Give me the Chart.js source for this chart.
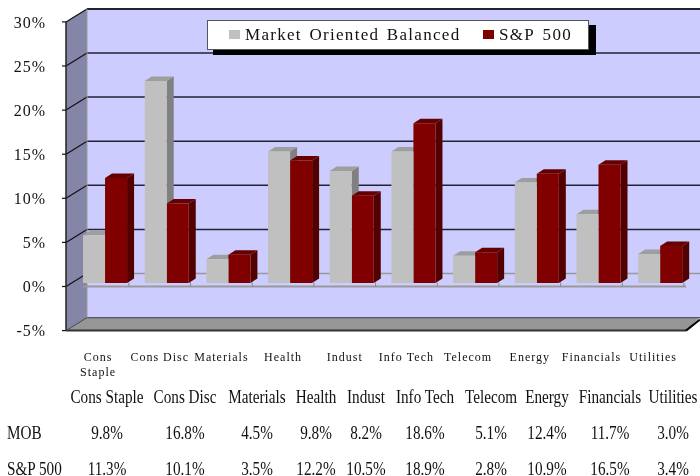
<!DOCTYPE html>
<html lang="en">
<head>
<meta charset="UTF-8">
<title>Market Oriented Balanced vs S&amp;P 500</title>
<script src="https://cdn.jsdelivr.net/npm/chart.js"></script>
<style>
  html, body { margin: 0; padding: 0; background: #fff; }
  #wrap { position: relative; width: 700px; height: 476px; overflow: hidden; }
  canvas { position: absolute; left: 0; top: 0; filter: blur(0.45px); }
  .cell { position: absolute; white-space: nowrap; color: #111; font: 19px "Liberation Serif", serif; line-height: 20px; }
</style>
</head>
<body>
<div id="wrap"><canvas id="sectorChart" width="700" height="476"></canvas></div>

<script>
// values
const categories = [['Cons', 'Staple'], 'Cons Disc', 'Materials', 'Health', 'Indust', 'Info Tech', 'Telecom', 'Energy', 'Financials', 'Utilities'];
const seriesNames = ['Market Oriented Balanced', 'S&P 500'];
const mobValues = [5.4, 22.9, 2.7, 14.9, 12.7, 14.9, 3.1, 11.4, 7.8, 3.3];
const spValues = [11.9, 9.0, 3.2, 13.9, 9.9, 18.1, 3.5, 12.4, 13.4, 4.2];

// table under the chart
const tableHeader = ['Cons Staple', 'Cons Disc', 'Materials', 'Health', 'Indust', 'Info Tech', 'Telecom', 'Energy', 'Financials', 'Utilities'];
const tableMob = ['9.8%', '16.8%', '4.5%', '9.8%', '8.2%', '18.6%', '5.1%', '12.4%', '11.7%', '3.0%'];
const tableSp = ['11.3%', '10.1%', '3.5%', '12.2%', '10.5%', '18.9%', '2.8%', '10.9%', '16.5%', '3.4%'];

const wrap = document.getElementById('wrap');
const tableX = [106.5, 185, 257, 316, 366, 425, 490.5, 547, 610, 672.5];

function addCell(text, x, y, center) {
  const el = document.createElement('div');
  el.className = 'cell';
  el.textContent = text;
  el.style.left = x + 'px';
  el.style.top = (y - 10) + 'px';
  el.style.transformOrigin = center ? 'center' : 'left';
  el.style.transform = (center ? 'translateX(-50%) ' : '') + 'scaleX(0.8)';
  wrap.appendChild(el);
}
tableHeader.forEach((t, i) => addCell(t, tableX[i], 397, true));
tableMob.forEach((t, i) => addCell(t, tableX[i], 433, true));
tableSp.forEach((t, i) => addCell(t, tableX[i], 469, true));
addCell('MOB', 7, 433, false);
addCell('S&P 500', 7, 469, false);

function poly(ctx, pts, fill) {
  ctx.beginPath();
  pts.forEach((p, i) => i ? ctx.lineTo(p[0], p[1]) : ctx.moveTo(p[0], p[1]));
  ctx.closePath();
  ctx.fillStyle = fill;
  ctx.fill();
}

function line(ctx, x1, y1, x2, y2, color, w) {
  ctx.beginPath();
  ctx.moveTo(x1, y1);
  ctx.lineTo(x2, y2);
  ctx.strokeStyle = color;
  ctx.lineWidth = w;
  ctx.stroke();
}

// the fake 3D box: walls, floor, gridlines and bar sides
const box3d = {
  id: 'box3d',
  beforeDraw(chart) {
    chart.ctx.letterSpacing = '1px';
  },
  beforeDatasetsDraw(chart) {
    const ctx = chart.ctx;
    const y = chart.scales.y;
    const x = chart.scales.x;
    const front = v => y.getPixelForValue(v) + 3.5;
    const back = v => front(v) - 13;
    const fl = 66, bl = 87, fr = 686, br = 700;

    ctx.save();
    poly(ctx, [[bl, back(30)], [br, back(30)], [br, back(-5)], [bl, back(-5)]], '#CCCCFF');
    poly(ctx, [[fl, front(30)], [bl, back(30)], [bl, back(-5)], [fl, front(-5)]], '#8585A8');
    poly(ctx, [[fl, front(-5)], [bl, back(-5)], [br, back(-5)], [fr, front(-5)]], '#969696');

    y.ticks.forEach(t => {
      const v = t.value;
      if (v === -5) return;
      const c = v === 0 ? '#999999' : '#222233';
      line(ctx, bl, back(v), br, back(v), c, v === 30 ? 2 : 1.5);
      line(ctx, fl, front(v), bl, back(v), '#111111', 1.2);
    });
    line(ctx, bl, back(-5), br, back(-5), '#555566', 1.2);
    line(ctx, bl, back(30), bl, back(-5), '#999999', 1);
    line(ctx, fl, front(30), fl, front(-5), '#222222', 1.5);
    line(ctx, fl, front(-5), fr, front(-5), '#333333', 2);
    line(ctx, fr, front(-5), br, back(-5) + 2, '#000000', 2);
    line(ctx, fl, front(-5), bl, back(-5), '#444444', 1);

    y.ticks.forEach(t => line(ctx, 62, front(t.value), fl, front(t.value), '#111111', 1.2));

    // 0% plane
    line(ctx, 83, front(0), fr, front(0), '#999999', 2);
    categories.forEach((c, i) => {
      const tx = x.getPixelForTick(i) + 30.8 - 7;
      line(ctx, tx, front(0) - 4, tx, front(0), '#888888', 1);
    });

    // sides and tops of the bars, bars themselves are drawn over this
    const sides = ['#808080', '#520000'];
    const tops = ['#9E9E9E', '#660000'];
    const dx = 7, dy = 4.5;
    [0, 1].forEach(d => {
      chart.getDatasetMeta(d).data.forEach(b => {
        const l = b.x - b.width / 2;
        const r = b.x + b.width / 2;
        poly(ctx, [[r, b.y], [r + dx, b.y - dy], [r + dx, b.base - dy], [r, b.base]], sides[d]);
        poly(ctx, [[l, b.y], [l + dx, b.y - dy], [r + dx, b.y - dy], [r, b.y]], tops[d]);
      });
    });
    ctx.restore();
  },
  afterDraw(chart) {
    // legend box with the hard black shadow
    const ctx = chart.ctx;
    ctx.save();
    ctx.fillStyle = '#000';
    ctx.fillRect(213, 25, 383, 30);
    ctx.fillStyle = '#fff';
    ctx.fillRect(207, 20, 382, 30);
    ctx.strokeStyle = '#555';
    ctx.lineWidth = 1;
    ctx.strokeRect(207.5, 20.5, 381, 29);
    ctx.fillStyle = chart.data.datasets[0].backgroundColor;
    ctx.fillRect(229, 30, 11, 9);
    ctx.fillStyle = chart.data.datasets[1].backgroundColor;
    ctx.fillRect(483, 30, 11, 9);
    ctx.fillStyle = '#111';
    ctx.font = '17px "Liberation Serif", serif';
    ctx.textBaseline = 'middle';
    ctx.letterSpacing = '1.3px';
    ctx.wordSpacing = '2px';
    ctx.fillText(seriesNames[0], 245, 36);
    ctx.fillText(seriesNames[1], 499, 36);
    ctx.restore();
  }
};

new Chart(document.getElementById('sectorChart'), {
  type: 'bar',
  data: {
    labels: categories,
    datasets: [
      { label: seriesNames[0], data: mobValues, backgroundColor: '#C0C0C0', borderWidth: 0 },
      { label: seriesNames[1], data: spValues, backgroundColor: '#800000', borderWidth: 0 }
    ]
  },
  options: {
    responsive: false,
    animation: false,
    devicePixelRatio: 1,
    layout: { padding: { top: 18.4, right: 9, left: 0, bottom: 0 } },
    categoryPercentage: 0.714,
    barPercentage: 1,
    plugins: { legend: { display: false }, tooltip: { enabled: false } },
    scales: {
      x: {
        afterFit: s => { s.height = 148.9; s.paddingLeft = 0; s.paddingRight = 0; },
        grid: { display: false, drawTicks: false },
        border: { display: false },
        ticks: {
          autoSkip: false,
          maxRotation: 0,
          minRotation: 0,
          labelOffset: -7,
          padding: 23,
          color: '#111',
          font: { family: '"Liberation Serif", serif', size: 12, lineHeight: 1.25 }
        }
      },
      y: {
        min: -5,
        max: 30,
        afterFit: s => { s.width = 74.2; s.paddingTop = 0; s.paddingBottom = 0; },
        grid: { display: false, drawTicks: false },
        border: { display: false },
        ticks: {
          stepSize: 5,
          labelOffset: 5,
          padding: 28,
          color: '#111',
          font: { family: '"Liberation Serif", serif', size: 16 },
          callback: v => v + '%'
        }
      }
    }
  },
  plugins: [box3d]
});
</script>
</body>
</html>
